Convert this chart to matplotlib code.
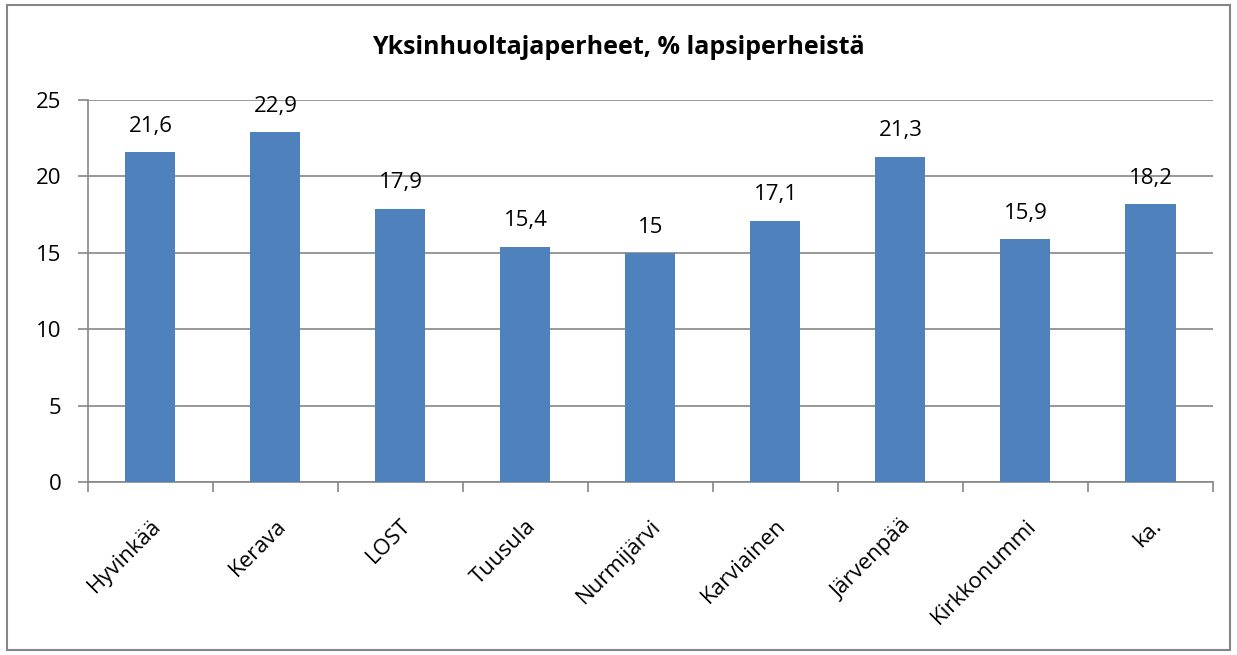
import matplotlib.pyplot as plt
from matplotlib.patches import Rectangle
from matplotlib.ticker import FixedLocator

kunnat = ['Hyvinkää', 'Kerava', 'LOST', 'Tuusula', 'Nurmijärvi',
          'Karviainen', 'Järvenpää', 'Kirkkonummi', 'ka.']
osuudet = [21.6, 22.9, 17.9, 15.4, 15.0, 17.1, 21.3, 15.9, 18.2]
arvotekstit = ['21,6', '22,9', '17,9', '15,4', '15', '17,1', '21,3', '15,9', '18,2']
y_ticks = [0, 5, 10, 15, 20, 25]

plt.rcParams['font.family'] = ['Open Sans', 'DejaVu Sans']

fig = plt.figure(figsize=(12.37, 6.55), dpi=100)
fig.patches.append(Rectangle((0.006, 0.008), 0.988, 0.985, transform=fig.transFigure,
                             fill=False, edgecolor='#868686', linewidth=1.5))

ax = fig.add_axes([0.0711, 0.2641, 0.9095, 0.5832])
x = list(range(len(kunnat)))
bars = ax.bar(x, osuudet, width=0.4, color='#4F81BD', zorder=3)

for b, txt in zip(bars, arvotekstit):
    ax.text(b.get_x() + b.get_width() / 2, b.get_height() + 1.0, txt,
            ha='center', va='bottom', fontsize=16)

ax.set_xlim(-0.5, len(kunnat) - 0.5)
ax.set_ylim(0, 25)
ax.set_yticks(y_ticks)
ax.yaxis.grid(True, color='#868686', linewidth=1.2, zorder=0)
ax.set_axisbelow(True)

ax.set_xticks(x)
ax.set_xticklabels(kunnat, rotation=45, ha='right', rotation_mode='anchor', fontsize=16)
ax.tick_params(axis='x', length=0, pad=24)
ax.xaxis.set_minor_locator(FixedLocator([i - 0.5 for i in range(len(kunnat) + 1)]))
ax.tick_params(axis='x', which='minor', length=7, color='#868686', width=1.2)
ax.tick_params(axis='y', length=7, color='#868686', width=1.2, labelsize=16, pad=12)

for s in ['top', 'right']:
    ax.spines[s].set_visible(False)
for s in ['left', 'bottom']:
    ax.spines[s].set_color('#868686')
    ax.spines[s].set_linewidth(1.2)

fig.text(0.5, 0.928, 'Yksinhuoltajaperheet, % lapsiperheistä', ha='center', va='center',
         fontsize=18, fontweight='bold')

fig.savefig('out.png', dpi=100)
